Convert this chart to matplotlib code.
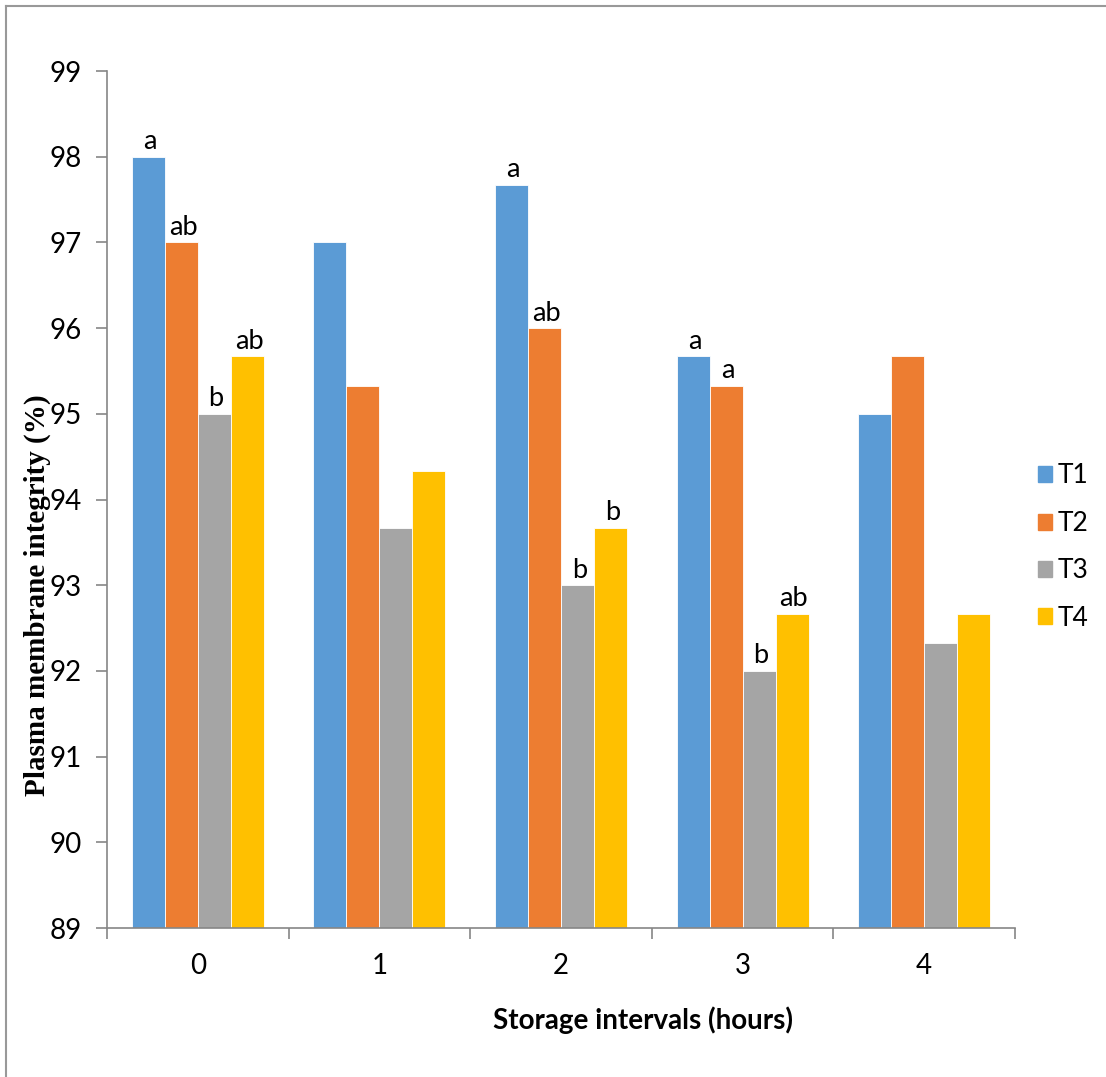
import matplotlib.pyplot as plt
import numpy as np
from matplotlib.lines import Line2D

# 数据
intervals = ['0', '1', '2', '3', '4']
series_names = ['T1', 'T2', 'T3', 'T4']
t1 = [98.0, 97.0, 97.67, 95.67, 95.0]
t2 = [97.0, 95.33, 96.0, 95.33, 95.67]
t3 = [95.0, 93.67, 93.0, 92.0, 92.33]
t4 = [95.67, 94.33, 93.67, 92.67, 92.67]
# 显著性字母（空字符串 = 无标注）
letters_t1 = ['a', '', 'a', 'a', '']
letters_t2 = ['ab', '', 'ab', 'a', '']
letters_t3 = ['b', '', 'b', 'b', '']
letters_t4 = ['ab', '', 'b', 'ab', '']
colors = ['#5B9BD5', '#ED7D31', '#A5A5A5', '#FFC000']

values = [t1, t2, t3, t4]
letters = [letters_t1, letters_t2, letters_t3, letters_t4]

plt.rcParams['font.family'] = ['Lato', 'DejaVu Sans']

fig = plt.figure(figsize=(11.06, 10.77), dpi=100)
ax = fig.add_axes([0.0967, 0.1383, 0.8210, 0.7957])

x = np.arange(len(intervals))
bar_w = 1 / 5.5  # Excel gap width 150%
for i, (vals, col) in enumerate(zip(values, colors)):
    pos = x + (i - 1.5) * bar_w
    ax.bar(pos, np.array(vals) - 89, bottom=89, width=bar_w, color=col,
           edgecolor='white', linewidth=0.6, label=series_names[i], zorder=2)
    for p, v, lab in zip(pos, vals, letters[i]):
        if lab:
            ax.text(p + 0.01, v + 0.03, lab, ha='center', va='bottom', fontsize=19.5)

ax.set_ylim(89, 99)
ax.set_xlim(-0.5, len(intervals) - 0.5)
ax.set_yticks(range(89, 100))
ax.tick_params(axis='y', labelsize=20, length=8, color='#868686', width=1.2, pad=10)

# x 轴刻度在组之间
ax.set_xticks(np.arange(-0.5, len(intervals), 1.0))
ax.set_xticklabels([])
ax.set_xticks(x, minor=True)
ax.set_xticklabels(intervals, minor=True, fontsize=20)
ax.tick_params(axis='x', which='major', length=8, color='#868686', width=1.2)
ax.tick_params(axis='x', which='minor', length=0, pad=18)

for s in ['top', 'right']:
    ax.spines[s].set_visible(False)
for s in ['left', 'bottom']:
    ax.spines[s].set_color('#868686')
    ax.spines[s].set_linewidth(1.2)

ax.set_ylabel('Plasma membrane integrity (%)', family=['Liberation Serif'],
              fontweight='bold', fontsize=21)
ax.yaxis.set_label_coords(-0.077, 0.389)
ax.yaxis.label.set_va('center')
ax.set_xlabel('Storage intervals (hours)', fontweight='bold', fontsize=20)
ax.xaxis.set_label_coords(0.590, -0.107)
ax.xaxis.label.set_va('center')

handles = [plt.Rectangle((0, 0), 1, 1, color=c) for c in colors]
fig.legend(handles, series_names, loc='center left', bbox_to_anchor=(0.917, 0.492),
           frameon=False, fontsize=19, handlelength=0.55, handleheight=0.55,
           labelspacing=0.85, handletextpad=0.2)

# 外框（只显示上边和左边）
fig.add_artist(Line2D([6 / 1106, 1], [1 - 6 / 1077, 1 - 6 / 1077],
                      transform=fig.transFigure, color='#999999', lw=1.5))
fig.add_artist(Line2D([6 / 1106, 6 / 1106], [0, 1 - 6 / 1077],
                      transform=fig.transFigure, color='#999999', lw=1.5))

fig.savefig('out.png', dpi=100)
